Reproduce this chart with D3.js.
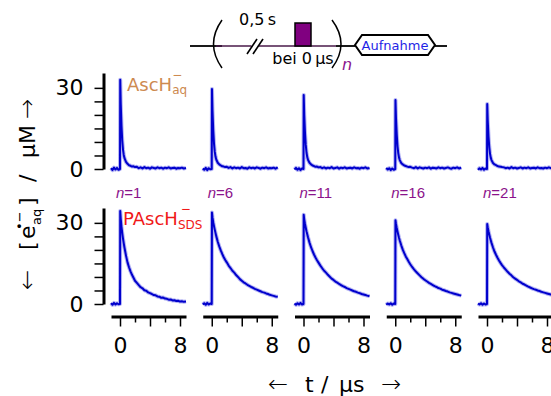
<!DOCTYPE html>
<html><head><meta charset="utf-8">
<script src="https://cdn.jsdelivr.net/npm/d3@7"></script>
<style>body{margin:0;background:#fff}svg{display:block}</style>
</head><body><svg id="c" width="551" height="396"></svg>
<script>
// ---------- data ----------
const times=[-1.2,-1.0,-0.8,-0.6,-0.4,-0.2, 0,0.03, 0.1,0.2,0.3,0.4,0.5,0.6, 0.8,1.0,1.2,1.4,1.6,1.8,2.0,
 2.25,2.5,2.75,3.0, 3.25,3.5,3.75,4.0, 4.25,4.5,4.75,5.0, 5.25,5.5,5.75,6.0, 6.25,6.5,6.75,7.0, 7.25,7.5,7.75,8.0, 8.25,8.5, 8.8];
const runs=[1,6,11,16,21];
// AscH- (aq), top row
const aq1 =[0.3,-0.4,0.5,-0.2,0.4,-0.3, 0,33.0, 24.0,16.0,10.5,7.2,5.2,4.0, 2.6,1.9,1.4,1.2,0.9,1.0,0.7, 0.8,0.3,0.6,0.2, 0.7,0.3,0.5,0.1, 0.6,0.4,0.2,0.6, 0.3,0.5,0.1,0.5, 0.3,0.6,0.2,0.4, 0.5,0.1,0.4,0.3, 0.5,0.2, 0.4];
const aq6 =[0.2,-0.3,0.4,-0.4,0.3,-0.1, 0,29.6, 21.5,14.3,9.4,6.4,4.6,3.5, 2.3,1.7,1.3,1.0,0.9,0.7,0.8, 0.4,0.7,0.2,0.6, 0.3,0.5,0.2,0.7, 0.3,0.4,0.1,0.6, 0.3,0.5,0.2,0.6, 0.4,0.1,0.5,0.3, 0.6,0.2,0.4,0.3, 0.5,0.1, 0.6];
const aq11=[-0.2,0.4,-0.3,0.3,-0.4,0.2, 0,27.4, 20.0,13.4,8.9,6.1,4.4,3.4, 2.3,1.7,1.3,1.1,0.8,0.9,0.6, 0.7,0.3,0.6,0.2, 0.5,0.3,0.7,0.2, 0.4,0.6,0.1,0.5, 0.3,0.6,0.2,0.4, 0.5,0.2,0.6,0.3, 0.4,0.1,0.5,0.3, 0.6,0.2, 0.4];
const aq16=[0.4,-0.2,0.3,-0.4,0.2,-0.3, 0,25.5, 18.8,12.7,8.5,5.9,4.3,3.3, 2.2,1.7,1.3,1.1,0.9,0.7,0.8, 0.5,0.3,0.7,0.2, 0.6,0.4,0.2,0.5, 0.3,0.6,0.1,0.5, 0.4,0.2,0.6,0.3, 0.5,0.2,0.4,0.6, 0.3,0.1,0.5,0.3, 0.6,0.2, 0.5];
const aq21=[-0.3,0.3,-0.2,0.4,-0.3,0.2, 0,24.0, 17.8,12.1,8.2,5.7,4.2,3.3, 2.2,1.7,1.4,1.1,0.9,0.8,0.7, 0.6,0.3,0.5,0.2, 0.7,0.3,0.5,0.2, 0.4,0.6,0.2,0.5, 0.3,0.6,0.2,0.4, 0.5,0.2,0.6,0.3, 0.4,0.2,0.5,0.3, 0.6,0.3, 0.5];
// PAscH- (SDS), bottom row
const sds1 =[0.3,-0.3,0.4,-0.2,0.3,-0.1, 0,34.4, 31.5,28.5,26.2,24.2,22.4,20.8, 17.9,15.4,13.6,12.1,10.8,9.7,8.6, 7.8,7.0,6.2,5.8, 5.1,4.9,4.3,4.0, 3.7,3.3,3.2,2.8, 2.7,2.3,2.4,2.0, 1.9,1.6,1.7,1.3, 1.4,1.1,1.2,0.9, 1.0,0.8, 0.9];
const sds6 =[-0.2,0.3,-0.3,0.4,-0.2,0.2, 0,33.8, 32.0,30.2,28.8,27.5,26.3,25.1, 23.0,21.3,19.8,18.5,17.3,16.3,15.4, 14.2,13.3,12.3,11.6, 10.7,10.0,9.2,8.6, 8.0,7.6,7.1,6.7, 6.3,6.0,5.6,5.3, 5.0,4.7,4.4,4.2, 3.9,3.7,3.4,3.2, 3.0,2.8, 2.7];
const sds11=[0.2,-0.3,0.3,-0.2,0.4,-0.2, 0,33.0, 31.3,29.6,28.2,26.9,25.8,24.7, 22.7,21.0,19.6,18.3,17.2,16.2,15.3, 14.2,13.2,12.3,11.6, 10.8,10.1,9.4,8.9, 8.3,7.9,7.4,7.0, 6.6,6.3,5.9,5.6, 5.3,5.0,4.7,4.5, 4.2,4.0,3.7,3.5, 3.3,3.1, 2.9];
const sds16=[-0.3,0.2,-0.2,0.3,-0.3,0.2, 0,31.0, 29.6,28.1,26.8,25.6,24.5,23.5, 21.7,20.1,18.8,17.6,16.6,15.6,14.7, 13.7,12.8,12.0,11.3, 10.6,9.9,9.3,8.8, 8.3,7.8,7.4,7.0, 6.6,6.3,5.9,5.7, 5.3,5.1,4.8,4.6, 4.3,4.1,3.9,3.7, 3.5,3.3, 3.1];
const sds21=[0.2,-0.2,0.3,-0.3,0.2,-0.2, 0,29.6, 28.3,26.9,25.7,24.6,23.6,22.6, 20.9,19.4,18.2,17.1,16.1,15.2,14.4, 13.5,12.7,11.9,11.2, 10.6,9.9,9.4,8.9, 8.4,8.0,7.5,7.2, 6.8,6.4,6.1,5.8, 5.5,5.3,5.0,4.8, 4.5,4.3,4.1,3.9, 3.7,3.5, 3.3];
const topSeries=[aq1,aq6,aq11,aq16,aq21];
const botSeries=[sds1,sds6,sds11,sds16,sds21];
const yTicks=[0,5,10,15,20,25,30];
const yLabels=[0,30];
const xTicks=[0,2,4,6,8];
const xLabels=[0,8];

// ---------- drawing ----------
const FONT='"DejaVu Sans", sans-serif';
const AFONT='"Liberation Sans", sans-serif';
const svg=d3.select('#c');
const panel=d3.scaleBand().domain(runs).range([111,553]).paddingInner(16.75/91.75).paddingOuter(0);
const xs=d3.scaleLinear().domain([-1.2,8.8]).range([0,75]);
const yTop=d3.scaleLinear().domain([0,35.5]).range([169,73]);
const yBot=d3.scaleLinear().domain([0,35.5]).range([304,208]);

function yAxis(scale){
  const g=svg.append('g').attr('transform','translate(103.5,0)')
    .call(d3.axisLeft(scale).tickValues(yTicks).tickSize(9).tickSizeOuter(0).tickPadding(11)
      .tickFormat(d=>yLabels.includes(d)?d:''));
  g.attr('font-size',22).attr('font-family',FONT);
  g.select('.domain').attr('stroke-width',3);
  g.selectAll('.tick line').attr('stroke-width',1.5);
}
yAxis(yTop); yAxis(yBot);

const trace=(ys)=>d3.line().x(d=>xs(d[0])).y(d=>ys(d[1]));
runs.forEach((r,i)=>{
  const g=svg.append('g').attr('transform',`translate(${panel(r)},0)`);
  [[topSeries[i],yTop],[botSeries[i],yBot]].forEach(([vals,ys])=>{
    const pts=times.map((t,k)=>[t,vals[k]]);
    g.append('path').attr('d',trace(ys)(pts)).attr('fill','none')
      .attr('stroke','#5a5ae6').attr('stroke-opacity',0.45).attr('stroke-width',4).attr('stroke-linejoin','round');
    g.append('path').attr('d',trace(ys)(pts)).attr('fill','none')
      .attr('stroke','#0000cc').attr('stroke-width',2).attr('stroke-linejoin','round');
  });
  const ax=svg.append('g').attr('transform',`translate(${panel(r)},316.5)`)
    .call(d3.axisBottom(xs).tickValues(xTicks).tickSize(6).tickSizeOuter(0)
      .tickFormat(d=>xLabels.includes(d)?d:''));
  ax.attr('font-size',22).attr('font-family',FONT);
  ax.select('.domain').attr('stroke-width',3);
  ax.selectAll('.tick line').attr('stroke-width',1.5).attr('y2',d=>d%4===0?10:6);
  ax.selectAll('.tick text').attr('y',20.5);
  // run label
  const nt=svg.append('text').attr('x',panel(r)+xs(0)-4).attr('y',198)
    .attr('font-family',AFONT).attr('font-size',15).attr('fill','#8b138b');
  nt.append('tspan').attr('font-style','italic').text('n');
  nt.append('tspan').text('='+r);
});

// series labels
const l1=svg.append('text').attr('x',127).attr('y',91).attr('font-family',FONT).attr('font-size',18).attr('fill','#cd8a50');
l1.append('tspan').text('AscH');
l1.append('tspan').attr('font-size',12).attr('dy',-12).text('\u2212');
l1.append('tspan').attr('font-size',12).attr('dx',-10).attr('dy',15).text('aq');
const l2=svg.append('text').attr('x',123).attr('y',225).attr('font-family',FONT).attr('font-size',18).attr('fill','#f01818');
l2.append('tspan').text('PAscH');
l2.append('tspan').attr('font-size',12).attr('dy',-12).attr('dx',3).text('\u2212');
l2.append('tspan').attr('font-size',12).attr('dx',-13).attr('dy',16).text('SDS');

// axis titles
const yt=svg.append('text').attr('transform','translate(35,290) rotate(-90)')
  .attr('font-family',FONT).attr('font-size',22).attr('fill','#000');
yt.append('tspan').attr('x',0).attr('font-size',24).attr('font-weight',200).text('\u2190');
yt.append('tspan').attr('x',40).text('[');
yt.append('tspan').attr('x',51).text('e');
yt.append('tspan').attr('x',60).attr('font-size',13).attr('dy',-11).text('\u2022');
yt.append('tspan').attr('font-size',13).text('\u2212');
yt.append('tspan').attr('x',65).attr('font-size',13).attr('dy',17).text('aq');
yt.append('tspan').attr('x',84).attr('dy',-6).text(']');
yt.append('tspan').attr('x',108).text('/');
yt.append('tspan').attr('x',132).text('\u00b5M');
yt.append('tspan').attr('x',171).attr('font-size',24).attr('font-weight',200).text('\u2192');
const xt=svg.append('text').attr('y',392).attr('font-family',FONT).attr('font-size',22).attr('fill','#000');
xt.append('tspan').attr('x',268).attr('font-size',24).attr('font-weight',200).text('\u2190');
xt.append('tspan').attr('x',305).text('t');
xt.append('tspan').attr('x',321).text('/');
xt.append('tspan').attr('x',339).text('\u00b5s');
xt.append('tspan').attr('x',381).attr('font-size',24).attr('font-weight',200).text('\u2192');

// pulse-sequence diagram
const dg=svg.append('g').attr('fill','none').attr('stroke','#000');
dg.append('line').attr('x1',190).attr('x2',222).attr('y1',46).attr('y2',46).attr('stroke-width',1.8);
dg.append('line').attr('x1',216).attr('x2',336).attr('y1',46).attr('y2',46).attr('stroke','#4a1a4a').attr('stroke-width',1.5);
dg.append('line').attr('x1',336).attr('x2',355).attr('y1',46).attr('y2',46).attr('stroke-width',1.8);
dg.append('line').attr('x1',435).attr('x2',447).attr('y1',46).attr('y2',46).attr('stroke-width',1.8);
dg.append('path').attr('d','M222,20 Q205,44 222,68').attr('stroke-width',1.5);
dg.append('path').attr('d','M332,20 Q350,44 332,68').attr('stroke-width',1.5);
dg.append('line').attr('x1',252).attr('x2',258).attr('y1',40).attr('y2',52).attr('stroke','#fff').attr('stroke-width',6);
dg.append('line').attr('x1',247).attr('x2',257).attr('y1',54).attr('y2',39).attr('stroke-width',1.6);
dg.append('line').attr('x1',253).attr('x2',263).attr('y1',54).attr('y2',39).attr('stroke-width',1.6);
dg.append('rect').attr('x',295).attr('y',23).attr('width',16).attr('height',23).attr('fill','#800080').attr('stroke-width',1.5);
dg.append('path').attr('d','M355,45 L362,35 L428,35 L435,45 L428,55 L362,55 Z').attr('fill','#fff').attr('stroke-width',2);
const tx=(x,y,s,size,col,anchor)=>svg.append('text').attr('x',x).attr('y',y).attr('font-family',FONT)
  .attr('font-size',size).attr('fill',col).attr('text-anchor',anchor||'middle').text(s);
tx(257.5,25,'0,5\u2009s',16,'#000');
tx(303,64,'bei 0\u2009\u00b5s',16,'#000');
tx(342,70,'n',16,'#8b138b','start').attr('font-style','italic');
tx(395,50,'Aufnahme',13,'#1f1fe6');
</script></body></html>
